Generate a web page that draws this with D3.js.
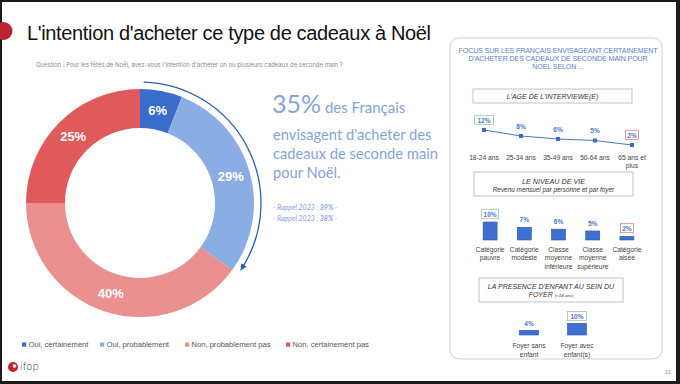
<!DOCTYPE html>
<html><head><meta charset="utf-8">
<script src="https://cdn.jsdelivr.net/npm/d3@7"></script>
<style>
html,body{margin:0;padding:0;background:#fff;}
svg{display:block;font-family:"Liberation Sans",Arial,sans-serif;}
</style></head>
<body>
<svg id="c" width="680" height="384"></svg>
<script>
// ---- data ----
const donutCategories = ["Oui, certainement","Oui, probablement","Non, probablement pas","Non, certainement pas"];
const donutValues = [6, 29, 40, 25];
const donutColors = ["#3a6ccb","#8aaee3","#ea9091","#e05a5b"];
const ageCategories = ["18-24 ans","25-34 ans","35-49 ans","50-64 ans","65 ans et|plus"];
const ageValues = [12, 8, 6, 5, 2];
const incomeCategories = ["Catégorie|pauvre","Catégorie|modeste","Classe|moyenne|inférieure","Classe|moyenne|supérieure","Catégorie|aisée"];
const incomeValues = [10, 7, 6, 5, 2];
const childCategories = ["Foyer sans|enfant","Foyer avec|enfant(s)"];
const childValues = [4, 10];
const rappelValues = ["39%","38%"];

const svg = d3.select("#c");
// frame
svg.append("rect").attr("width",680).attr("height",384).attr("fill","#1c1c1c");
svg.append("rect").attr("x",2).attr("y",2).attr("width",674).attr("height",379).attr("fill","#fff");

// title
svg.append("circle").attr("cx",3.5).attr("cy",31).attr("r",9).attr("fill","#bd2330");
svg.append("text").attr("x",27).attr("y",39.5).attr("font-size",20).attr("letter-spacing",-0.35).attr("fill","#111")
  .text("L'intention d'acheter ce type de cadeaux à Noël");
svg.append("text").attr("x",36).attr("y",67).attr("font-size",5.95).attr("fill","#8a8a8a")
  .attr("font-family","Inter, 'Liberation Sans', sans-serif")
  .text("Question : Pour les fêtes de Noël, avez-vous l'intention d'acheter un ou plusieurs cadeaux de seconde main ?");

// donut
const cx = 140, cy = 203, rO = 114, rI = 75;
const pie = d3.pie().sort(null).value(d => d.v);
const arcs = pie(donutCategories.map((c,i)=>({c, v: donutValues[i], col: donutColors[i]})));
const arc = d3.arc().innerRadius(rI).outerRadius(rO);
const g = svg.append("g").attr("transform",`translate(${cx},${cy})`);
g.selectAll("path.s").data(arcs).join("path").attr("class","s").attr("d",arc).attr("fill",d=>d.data.col);
const labelArc = d3.arc().innerRadius((rI+rO)/2).outerRadius((rI+rO)/2);
g.selectAll("text.l").data(arcs).join("text").attr("class","l")
  .attr("transform",d=>{const [x,y]=labelArc.centroid(d);return `translate(${x},${y})`;})
  .attr("text-anchor","middle").attr("dy","0.36em")
  .attr("font-size",13).attr("font-weight","bold").attr("fill","#fff")
  .text(d=>d.data.v+"%");

// arrow arc around "oui" share
const ouiShare = donutValues[0]+donutValues[1];
const aEnd = ouiShare/100*2*Math.PI - 0.06;
svg.append("defs").append("marker").attr("id","ah").attr("viewBox","0 0 10 10")
  .attr("refX",5).attr("refY",5).attr("markerWidth",6).attr("markerHeight",6).attr("orient","auto")
  .append("path").attr("d","M0,1 L9,5 L0,9 Z").attr("fill","#2a5db0");
const p = d3.path();
const rA = 121;
p.arc(0,0,rA,0.03-Math.PI/2,aEnd-Math.PI/2,false);
g.append("path").attr("d",p.toString()).attr("fill","none").attr("stroke","#2a5db0").attr("stroke-width",1.3)
  .attr("marker-end","url(#ah)");

// legend
const legX = [22, 100, 185, 286];
const leg = svg.append("g");
donutCategories.forEach((c,i)=>{
  leg.append("rect").attr("x",legX[i]).attr("y",342.5).attr("width",4.2).attr("height",4.2).attr("fill",donutColors[i]);
  leg.append("text").attr("x",legX[i]+6.5).attr("y",347.3).attr("font-size",7.6).attr("fill","#555").text(c);
});

// ifop logo
svg.append("circle").attr("cx",13).attr("cy",367).attr("r",5).attr("fill","#c8232c");
svg.append("circle").attr("cx",14.5).attr("cy",366).attr("r",1.8).attr("fill","#fff");
svg.append("text").attr("x",20).attr("y",370).attr("font-size",10).attr("fill","#333")
  .attr("font-family","DejaVu Sans").attr("font-weight",300).text("ifop");
svg.append("text").attr("x",665).attr("y",374).attr("font-size",5.5).attr("fill","#888").text("21");

// key text
const blueT = "#86a3db";
const kt = svg.append("g").attr("font-family","Lato, 'Noto Sans', sans-serif").attr("fill",blueT);
const l1 = kt.append("text").attr("x",272).attr("y",113);
l1.append("tspan").attr("font-size",25).text((donutValues[0]+donutValues[1])+"%");
l1.append("tspan").attr("font-size",15).text(" des Français");
["envisagent d'acheter des","cadeaux de seconde main","pour Noël."].forEach((t,i)=>{
  kt.append("text").attr("x",273).attr("y",140+i*19.2).attr("font-size",14.7).text(t);
});
rappelValues.forEach((v,i)=>{
  const t = kt.append("text").attr("x",273).attr("y",210+i*10.5).attr("font-size",7).attr("font-style","italic");
  t.append("tspan").text("- Rappel 2023 : ");
  t.append("tspan").attr("font-weight","bold").text(v);
  t.append("tspan").text(" -");
});

// right panel
const panelBlue = "#5b7fc9";
svg.append("rect").attr("x",450).attr("y",38).attr("width",212).attr("height",321).attr("rx",9)
  .attr("fill","#fff").attr("stroke","#c9d3e6").attr("stroke-width",1);
const hdr = ["FOCUS SUR LES FRANÇAIS ENVISAGEANT CERTAINEMENT","D'ACHETER DES CADEAUX DE SECONDE MAIN POUR","NOEL SELON ..."];
hdr.forEach((t,i)=>svg.append("text").attr("x",558).attr("y",53+i*8).attr("text-anchor","middle")
  .attr("font-size",7.1).attr("fill",panelBlue).attr("letter-spacing",-0.12).text(t));

function box(x,y,w,h){
  svg.append("rect").attr("x",x).attr("y",y).attr("width",w).attr("height",h)
    .attr("fill","#fff").attr("stroke","#aab4c8").attr("stroke-width",0.8);
}
// box 1
box(473,89,159,14);
svg.append("text").attr("x",552.5).attr("y",98.5).attr("text-anchor","middle").attr("font-size",7)
  .attr("font-style","italic").attr("fill","#333").text("L'AGE DE L'INTERVIEWE(E)");

const ptBlue = "#3a6ccb";
const ageX = d3.scalePoint().domain(ageCategories).range([484,632]);
const ageY = d3.scaleLinear().domain([0,12]).range([148,130]);
const line = d3.line().x((d,i)=>ageX(ageCategories[i])).y(d=>ageY(d));
svg.append("path").attr("d",line(ageValues)).attr("fill","none").attr("stroke","#4e73bd").attr("stroke-width",1);
svg.selectAll("rect.pt").data(ageValues).join("rect").attr("class","pt")
  .attr("x",(d,i)=>ageX(ageCategories[i])-2).attr("y",d=>ageY(d)-2).attr("width",4).attr("height",4).attr("fill",ptBlue);

function valLabel(x,y,txt,boxCol,bw){
  if(boxCol){
    svg.append("rect").attr("x",x-bw/2).attr("y",y-5.2).attr("width",bw).attr("height",9)
      .attr("fill","#fff").attr("stroke",boxCol).attr("stroke-width",0.8);
  }
  svg.append("text").attr("x",x).attr("y",y+2.3).attr("text-anchor","middle").attr("font-size",6.6)
    .attr("font-weight","bold").attr("fill","#4d79c8").text(txt);
}
const maxI = v => v.indexOf(d3.max(v)), minI = v => v.indexOf(d3.min(v));
ageValues.forEach((v,i)=>{
  const b = i===maxI(ageValues)?"#9dc39a":(i===minI(ageValues)?"#e07a7a":null);
  valLabel(ageX(ageCategories[i]), ageY(v)-9.5, v+"%", b, v>=10?19:13);
});
function catLabel(x,y,s,lh){
  s.split("|").forEach((t,j)=>svg.append("text").attr("x",x).attr("y",y+j*lh).attr("text-anchor","middle")
    .attr("font-size",6.7).attr("fill","#444").text(t));
}
ageCategories.forEach(c=>catLabel(ageX(c),159.5,c,8));

// box 2
box(474,172,159,24);
svg.append("text").attr("x",553.5).attr("y",183.5).attr("text-anchor","middle").attr("font-size",7.2)
  .attr("font-style","italic").attr("fill","#333").text("LE NIVEAU DE VIE");
svg.append("text").attr("x",553.5).attr("y",191.8).attr("text-anchor","middle").attr("font-size",6.4)
  .attr("font-style","italic").attr("fill","#333").text("Revenu mensuel par personne et par foyer");

const incX = d3.scalePoint().domain(incomeCategories).range([473,644]).padding(0.5);
const incY = d3.scaleLinear().domain([0,10]).range([240,222]);
svg.selectAll("rect.ib").data(incomeValues).join("rect").attr("class","ib")
  .attr("x",(d,i)=>incX(incomeCategories[i])-7).attr("y",d=>incY(d)).attr("width",14)
  .attr("height",d=>incY(0)-incY(d)).attr("fill","#3d70d0").attr("stroke","#2a55a8").attr("stroke-width",0.6);
incomeValues.forEach((v,i)=>{
  const b = i===maxI(incomeValues)?"#9dc39a":(i===minI(incomeValues)?"#e07a7a":null);
  valLabel(incX(incomeCategories[i]), incY(v)-7.5, v+"%", b, v>=10?17:13);
});
incomeCategories.forEach(c=>catLabel(incX(c),251.5,c,8.5));

// box 3
box(479,278,144,24);
svg.append("text").attr("x",551).attr("y",288.5).attr("text-anchor","middle").attr("font-size",7)
  .attr("font-style","italic").attr("fill","#333").text("LA PRESENCE D'ENFANT AU SEIN DU");
const t3 = svg.append("text").attr("x",551).attr("y",296.8).attr("text-anchor","middle")
  .attr("font-style","italic").attr("fill","#333");
t3.append("tspan").attr("font-size",7).text("FOYER ");
t3.append("tspan").attr("font-size",4.4).text("(<14 ans)");

const chX = d3.scalePoint().domain(childCategories).range([505,601]).padding(0.5);
const chY = d3.scaleLinear().domain([0,10]).range([335,323.3]);
svg.selectAll("rect.cb").data(childValues).join("rect").attr("class","cb")
  .attr("x",(d,i)=>chX(childCategories[i])-9.5).attr("y",d=>chY(d)).attr("width",19)
  .attr("height",d=>chY(0)-chY(d)).attr("fill","#3d70d0").attr("stroke","#2a55a8").attr("stroke-width",0.6);
childValues.forEach((v,i)=>{
  const b = i===maxI(childValues)?"#9dc39a":null;
  valLabel(chX(childCategories[i]), chY(v)-6.5, v+"%", b, 19);
});
childCategories.forEach(c=>catLabel(chX(c),347.5,c,9));
</script>
</body></html>
